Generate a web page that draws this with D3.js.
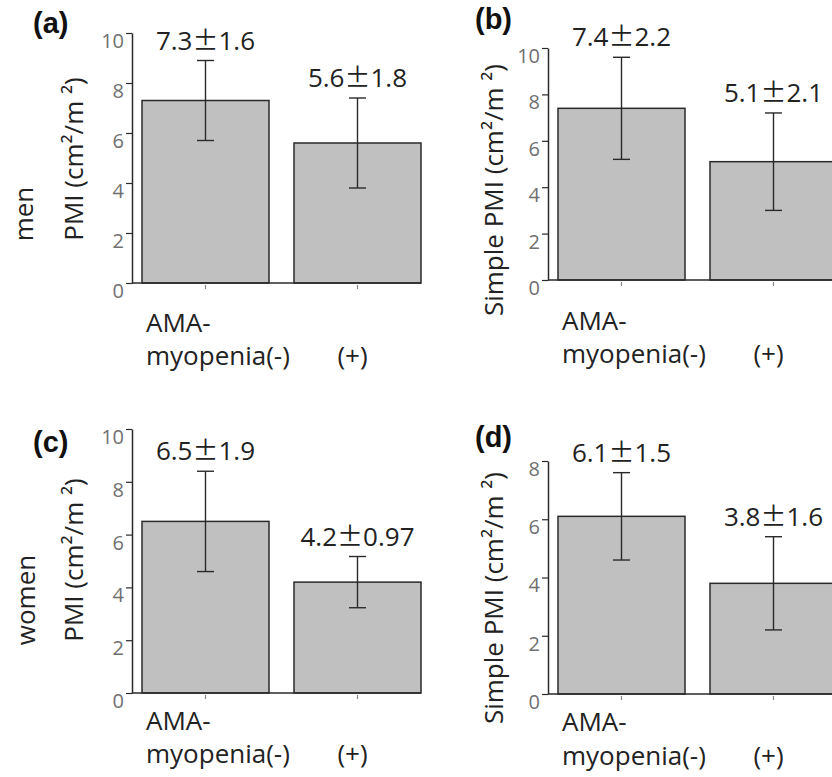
<!DOCTYPE html>
<html>
<head>
<meta charset="utf-8">
<script src="https://cdn.jsdelivr.net/npm/d3@7"></script>
<style>
body { margin: 0; background: #fff; }
svg text { font-family: "Open Sans", sans-serif; fill: #222; }
</style>
</head>
<body>
<div id="chart"></div>
<script>
// data
var panelTags = ["(a)", "(b)", "(c)", "(d)"];
var groups = ["AMA-myopenia(-)", "(+)"];
var meanValues = [[7.3, 5.6], [7.4, 5.1], [6.5, 4.2], [6.1, 3.8]];
var sdValues = [[1.6, 1.8], [2.2, 2.1], [1.9, 0.97], [1.5, 1.6]];
var yMaxValues = [10, 10, 10, 8];
var yTickValues = [[0, 2, 4, 6, 8, 10], [0, 2, 4, 6, 8, 10], [0, 2, 4, 6, 8, 10], [0, 2, 4, 6, 8]];
var yTitles = ["PMI (cm\u00b2/m \u00b2)", "Simple PMI (cm\u00b2/m \u00b2)", "PMI (cm\u00b2/m \u00b2)", "Simple PMI (cm\u00b2/m \u00b2)"];
var rowLabels = ["men", "women"];

var svgWidth = 832;
var svgHeight = 777;

// where each panel sits on the page
var layout = [
    {ax: 132, y0: 283, yTop: 33, titleX: 83, titleY: 159, tagX: 33, tagY: 33, catGap: [49, 82]},
    {ax: 548, y0: 280, yTop: 48, titleX: 503, titleY: 190, tagX: 475, tagY: 29, catGap: [50, 83]},
    {ax: 132, y0: 693, yTop: 429, titleX: 83, titleY: 560, tagX: 33, tagY: 452, catGap: [37, 70]},
    {ax: 548, y0: 694, yTop: 461, titleX: 503, titleY: 598, tagX: 475, tagY: 447, catGap: [37, 71]}
];
var rowPos = [{x: 33, y: 214}, {x: 35, y: 600}];

var svg = d3.select("#chart")
    .append("svg")
    .attr("width", svgWidth)
    .attr("height", svgHeight);

// row labels
svg.selectAll(".row-label")
    .data(rowLabels)
    .enter()
    .append("text")
    .attr("class", "row-label")
    .attr("transform", (d, i) => `translate(${rowPos[i].x},${rowPos[i].y}) rotate(-90)`)
    .attr("text-anchor", "middle")
    .style("font-size", "26px")
    .text(d => d);

panelTags.forEach(function(tag, p) {
    var L = layout[p];
    var g = svg.append("g");

    var x = d3.scaleBand()
        .domain(groups)
        .range([L.ax + 10, L.ax + 10 + 279])
        .paddingInner(25 / 152)
        .paddingOuter(0);

    var y = d3.scaleLinear()
        .domain([0, yMaxValues[p]])
        .range([L.y0, L.yTop]);

    var rows = groups.map((grp, i) => ({grp: grp, mean: meanValues[p][i], sd: sdValues[p][i]}));

    // bars
    g.selectAll(".bar")
        .data(rows)
        .enter()
        .append("rect")
        .attr("x", d => x(d.grp))
        .attr("y", d => y(d.mean))
        .attr("width", x.bandwidth())
        .attr("height", d => y(0) - y(d.mean))
        .attr("fill", "#c0c0c0")
        .attr("stroke", "#2a2a2a")
        .attr("stroke-width", 1.5);

    // x baseline + little ticks
    g.append("line")
        .attr("x1", L.ax).attr("x2", x.range()[1])
        .attr("y1", y(0)).attr("y2", y(0))
        .attr("stroke", "#2a2a2a").attr("stroke-width", 1.5);
    g.selectAll(".xtick")
        .data(groups)
        .enter()
        .append("line")
        .attr("x1", d => x(d) + x.bandwidth() / 2)
        .attr("x2", d => x(d) + x.bandwidth() / 2)
        .attr("y1", y(0) + 2).attr("y2", y(0) + 6)
        .attr("stroke", "#888").attr("stroke-width", 1.2);

    // error bars
    var eb = g.selectAll(".err")
        .data(rows)
        .enter()
        .append("g")
        .attr("stroke", "#2a2a2a")
        .attr("stroke-width", 1.4);
    eb.append("line")
        .attr("x1", d => x(d.grp) + x.bandwidth() / 2)
        .attr("x2", d => x(d.grp) + x.bandwidth() / 2)
        .attr("y1", d => y(d.mean + d.sd))
        .attr("y2", d => y(d.mean - d.sd));
    [1, -1].forEach(function(s) {
        eb.append("line")
            .attr("x1", d => x(d.grp) + x.bandwidth() / 2 - 8.5)
            .attr("x2", d => x(d.grp) + x.bandwidth() / 2 + 8.5)
            .attr("y1", d => y(d.mean + s * d.sd))
            .attr("y2", d => y(d.mean + s * d.sd));
    });

    // mean ± sd labels
    var lab = g.selectAll(".val")
        .data(rows)
        .enter()
        .append("text")
        .attr("x", d => x(d.grp) + x.bandwidth() / 2)
        .attr("y", d => y(d.mean + d.sd) - 11)
        .attr("text-anchor", "middle")
        .style("font-size", "26px");
    lab.append("tspan").text(d => String(d.mean));
    lab.append("tspan").style("font-family", "'Noto Sans CJK JP'").text("\u00b1");
    lab.append("tspan").text(d => String(d.sd));

    // y axis
    var yAxis = g.append("g")
        .attr("transform", `translate(${L.ax},0)`)
        .call(d3.axisLeft(y).tickValues(yTickValues[p]).tickSize(6).tickSizeOuter(0).tickPadding(2));
    yAxis.select(".domain").attr("stroke", "#2a2a2a").attr("stroke-width", 1.5);
    yAxis.selectAll(".tick line").attr("stroke", "#2a2a2a").attr("stroke-width", 1.2);
    yAxis.selectAll(".tick text")
        .attr("dy", "0.72em")
        .style("font-family", "'Open Sans', sans-serif")
        .style("font-size", "20px")
        .style("fill", "#707070");

    // y title
    g.append("text")
        .attr("transform", `translate(${L.titleX},${L.titleY}) rotate(-90)`)
        .attr("text-anchor", "middle")
        .style("font-size", "26px")
        .text(yTitles[p]);

    // category labels
    var left = x(groups[0]) + 4;
    g.append("text")
        .attr("x", left).attr("y", y(0) + L.catGap[0])
        .style("font-size", "26px")
        .text("AMA-");
    g.append("text")
        .attr("x", left).attr("y", y(0) + L.catGap[1])
        .style("font-size", "26px")
        .text("myopenia(-)");
    g.append("text")
        .attr("x", x(groups[1]) + x.bandwidth() / 2 - 5)
        .attr("y", y(0) + L.catGap[1])
        .attr("text-anchor", "middle")
        .style("font-size", "26px")
        .text(groups[1]);

    // panel tag
    g.append("text")
        .attr("x", L.tagX).attr("y", L.tagY)
        .style("font-family", "'Liberation Sans', Arial, sans-serif")
        .style("font-weight", "bold")
        .style("font-size", "29px")
        .style("fill", "#111")
        .text(tag);
});
</script>
</body>
</html>
